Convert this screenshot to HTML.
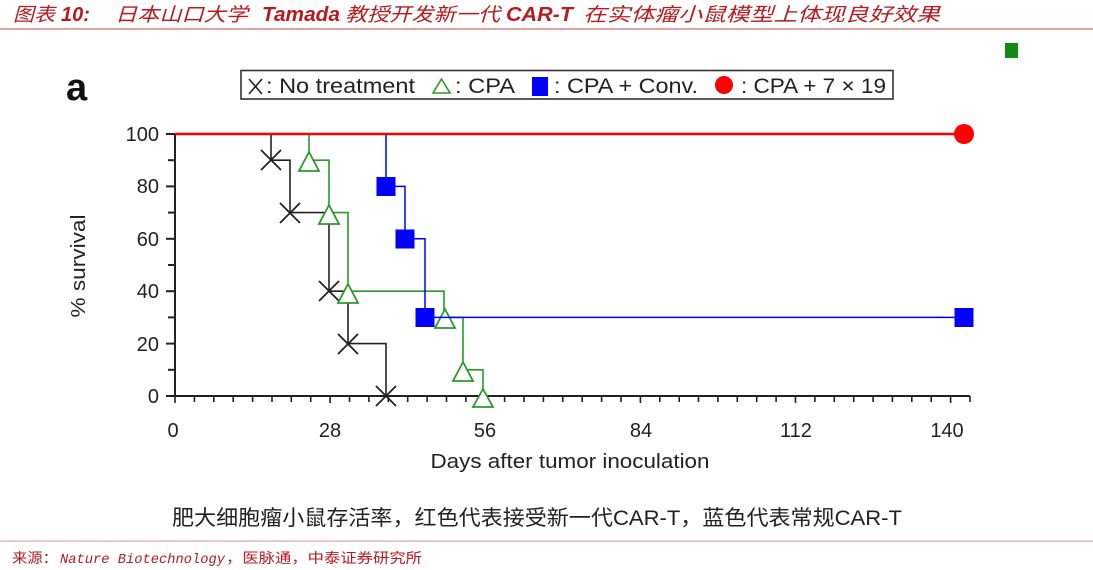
<!DOCTYPE html>
<html><head><meta charset="utf-8"><style>
html,body{margin:0;padding:0;background:#fff;}
svg{display:block;}
</style></head><body>
<svg width="1093" height="570" viewBox="0 0 1093 570" xmlns="http://www.w3.org/2000/svg">
<rect width="1093" height="570" fill="#fff"/>
<!-- Title -->
<g fill="#b81a1e" font-style="italic">
<text x="13" y="21" font-family="'Liberation Sans','Noto Sans CJK SC',sans-serif" font-size="19" textLength="42" lengthAdjust="spacingAndGlyphs">图表</text>
<text x="61" y="21" font-family="'Liberation Sans',sans-serif" font-weight="bold" font-size="20">10:</text>
<text x="115" y="21" font-family="'Liberation Sans','Noto Sans CJK SC',sans-serif" font-size="19" textLength="133" lengthAdjust="spacingAndGlyphs">日本山口大学</text>
<text x="262" y="21" font-family="'Liberation Sans',sans-serif" font-weight="bold" font-size="20" textLength="78" lengthAdjust="spacingAndGlyphs">Tamada</text>
<text x="345" y="21" font-family="'Liberation Sans','Noto Sans CJK SC',sans-serif" font-size="19" textLength="155" lengthAdjust="spacingAndGlyphs">教授开发新一代</text>
<text x="506" y="21" font-family="'Liberation Sans',sans-serif" font-weight="bold" font-size="20" textLength="67" lengthAdjust="spacingAndGlyphs">CAR-T</text>
<text x="583" y="21" font-family="'Liberation Sans','Noto Sans CJK SC',sans-serif" font-size="19" textLength="357" lengthAdjust="spacingAndGlyphs">在实体瘤小鼠模型上体现良好效果</text>
</g>
<line x1="0" y1="29" x2="1093" y2="29" stroke="#c87070" stroke-width="1.2"/>

<!-- green mark -->
<rect x="1005" y="43" width="13" height="15" fill="#138a13"/>

<!-- panel label -->
<text x="66" y="100" font-family="'Liberation Sans',sans-serif" font-weight="bold" font-size="38" fill="#111">a</text>

<!-- legend -->
<rect x="241" y="70.5" width="652" height="28.5" fill="#fff" stroke="#333" stroke-width="1.6"/>
<g font-family="'Liberation Sans',sans-serif" font-size="21" fill="#222">
<path d="M249,79 L262,94 M262,79 L249,94" stroke="#222" stroke-width="1.6" fill="none"/>
<text x="266" y="93" textLength="149" lengthAdjust="spacingAndGlyphs">: No treatment</text>
<path d="M441.5,79 L450,93 L433,93 Z" stroke="#2a9a2a" stroke-width="1.6" fill="none"/>
<text x="455" y="93" textLength="60" lengthAdjust="spacingAndGlyphs">: CPA</text>
<rect x="532" y="77" width="16" height="19" fill="#0000ff"/>
<text x="554" y="93" textLength="144" lengthAdjust="spacingAndGlyphs">: CPA + Conv.</text>
<circle cx="724" cy="85" r="9" fill="#ff0000"/>
<text x="741" y="93" textLength="145" lengthAdjust="spacingAndGlyphs">: CPA + 7 × 19</text>
</g>

<!-- axes -->
<g stroke="#222" stroke-width="2" fill="none">
<line x1="175" y1="133" x2="175" y2="397"/>
<line x1="172" y1="396" x2="970" y2="396"/>
<line x1="166" y1="134" x2="175" y2="134"/>
<line x1="168" y1="160.2" x2="175" y2="160.2"/>
<line x1="166" y1="186.4" x2="175" y2="186.4"/>
<line x1="168" y1="212.6" x2="175" y2="212.6"/>
<line x1="166" y1="238.8" x2="175" y2="238.8"/>
<line x1="168" y1="265" x2="175" y2="265"/>
<line x1="166" y1="291.2" x2="175" y2="291.2"/>
<line x1="168" y1="317.4" x2="175" y2="317.4"/>
<line x1="166" y1="343.6" x2="175" y2="343.6"/>
<line x1="168" y1="369.8" x2="175" y2="369.8"/>
<line x1="166" y1="396" x2="175" y2="396"/>
</g>
<g stroke="#222" stroke-width="1.6">
<line x1="175" y1="396" x2="175" y2="403"/><line x1="194.4" y1="396" x2="194.4" y2="402"/><line x1="213.8" y1="396" x2="213.8" y2="402"/><line x1="233.2" y1="396" x2="233.2" y2="402"/><line x1="252.6" y1="396" x2="252.6" y2="402"/><line x1="272" y1="396" x2="272" y2="402"/><line x1="291.3" y1="396" x2="291.3" y2="402"/><line x1="310.7" y1="396" x2="310.7" y2="402"/><line x1="330.1" y1="396" x2="330.1" y2="403"/><line x1="349.5" y1="396" x2="349.5" y2="402"/><line x1="368.9" y1="396" x2="368.9" y2="402"/><line x1="388.3" y1="396" x2="388.3" y2="402"/><line x1="407.7" y1="396" x2="407.7" y2="402"/><line x1="427.1" y1="396" x2="427.1" y2="402"/><line x1="446.5" y1="396" x2="446.5" y2="402"/><line x1="465.9" y1="396" x2="465.9" y2="402"/><line x1="485.2" y1="396" x2="485.2" y2="403"/><line x1="504.6" y1="396" x2="504.6" y2="402"/><line x1="524" y1="396" x2="524" y2="402"/><line x1="543.4" y1="396" x2="543.4" y2="402"/><line x1="562.8" y1="396" x2="562.8" y2="402"/><line x1="582.2" y1="396" x2="582.2" y2="402"/><line x1="601.6" y1="396" x2="601.6" y2="402"/><line x1="621" y1="396" x2="621" y2="402"/><line x1="640.4" y1="396" x2="640.4" y2="403"/><line x1="659.8" y1="396" x2="659.8" y2="402"/><line x1="679.2" y1="396" x2="679.2" y2="402"/><line x1="698.5" y1="396" x2="698.5" y2="402"/><line x1="717.9" y1="396" x2="717.9" y2="402"/><line x1="737.3" y1="396" x2="737.3" y2="402"/><line x1="756.7" y1="396" x2="756.7" y2="402"/><line x1="776.1" y1="396" x2="776.1" y2="402"/><line x1="795.5" y1="396" x2="795.5" y2="403"/><line x1="814.9" y1="396" x2="814.9" y2="402"/><line x1="834.3" y1="396" x2="834.3" y2="402"/><line x1="853.7" y1="396" x2="853.7" y2="402"/><line x1="873.1" y1="396" x2="873.1" y2="402"/><line x1="892.4" y1="396" x2="892.4" y2="402"/><line x1="911.8" y1="396" x2="911.8" y2="402"/><line x1="931.2" y1="396" x2="931.2" y2="402"/><line x1="950.6" y1="396" x2="950.6" y2="403"/><line x1="970" y1="396" x2="970" y2="402"/>
</g>

<!-- tick labels -->
<g font-family="'Liberation Sans',sans-serif" font-size="20" fill="#222">
<text x="159" y="141" text-anchor="end">100</text>
<text x="159" y="193" text-anchor="end">80</text>
<text x="159" y="246" text-anchor="end">60</text>
<text x="159" y="298" text-anchor="end">40</text>
<text x="159" y="351" text-anchor="end">20</text>
<text x="159" y="403" text-anchor="end">0</text>
<text x="173" y="437" text-anchor="middle">0</text>
<text x="330" y="437" text-anchor="middle">28</text>
<text x="485" y="437" text-anchor="middle">56</text>
<text x="641" y="437" text-anchor="middle">84</text>
<text x="796" y="437" text-anchor="middle">112</text>
<text x="947" y="437" text-anchor="middle">140</text>
</g>
<text x="570" y="468" text-anchor="middle" font-family="'Liberation Sans',sans-serif" font-size="20" fill="#222" textLength="279" lengthAdjust="spacingAndGlyphs">Days after tumor inoculation</text>
<text transform="translate(85,266) rotate(-90)" text-anchor="middle" font-family="'Liberation Sans',sans-serif" font-size="20" fill="#222" textLength="103" lengthAdjust="spacingAndGlyphs">% survival</text>

<!-- series: black -->
<path d="M175,134 H271 V160.2 H290 V212.6 H329 V291.2 H348 V343.6 H386 V396" stroke="#222" stroke-width="1.6" fill="none"/>
<g stroke="#222" stroke-width="1.8">
<path d="M261,150 L281,170 M281,150 L261,170"/>
<path d="M280,203 L300,223 M300,203 L280,223"/>
<path d="M319,281 L339,301 M339,281 L319,301"/>
<path d="M338,334 L358,354 M358,334 L338,354"/>
<path d="M376,386 L396,406 M396,386 L376,406"/>
</g>
<!-- green -->
<path d="M175,134 H309 V160.2 H329 V212.6 H348 V291.2 H444 V317.4 H463 V369.8 H483 V396" stroke="#2a9a2a" stroke-width="1.6" fill="none"/>
<g stroke="#2a9a2a" stroke-width="1.8" fill="#fff">
<path d="M309,152 L319,171 L299,171 Z"/>
<path d="M329,205 L339,224 L319,224 Z"/>
<path d="M348,284 L358,303 L338,303 Z"/>
<path d="M445,309 L455,328 L435,328 Z"/>
<path d="M463,362 L473,381 L453,381 Z"/>
<path d="M483,389 L493,407 L473,407 Z"/>
</g>
<!-- blue -->
<path d="M386,134 V186.4 H405 V238.8 H425 V317.4 H964" stroke="#0000ff" stroke-width="1.5" fill="none"/>
<g fill="#0000ff">
<rect x="376.5" y="177" width="19" height="19"/>
<rect x="395.5" y="229.5" width="19" height="19"/>
<rect x="415.5" y="308" width="19" height="19"/>
<rect x="954.5" y="308" width="19" height="19"/>
</g>
<!-- red -->
<line x1="175" y1="134" x2="964" y2="134" stroke="#ff0000" stroke-width="2.6"/>
<circle cx="964" cy="134" r="10" fill="#ff0000"/>

<!-- caption -->
<text x="172" y="525" font-family="'Liberation Sans','Noto Sans CJK SC',sans-serif" font-size="21" fill="#222" textLength="730" lengthAdjust="spacingAndGlyphs">肥大细胞瘤小鼠存活率，红色代表接受新一代CAR-T，蓝色代表常规CAR-T</text>

<line x1="0" y1="541" x2="1093" y2="541" stroke="#dba3a3" stroke-width="1.2"/>

<!-- source -->
<g fill="#b81a1e" font-size="14">
<text x="12" y="563" font-family="'Liberation Sans','Noto Sans CJK SC',sans-serif" textLength="46" lengthAdjust="spacingAndGlyphs">来源：</text>
<text x="60" y="563" font-family="'Liberation Mono',monospace" font-style="italic" textLength="165" lengthAdjust="spacingAndGlyphs">Nature Biotechnology</text>
<text x="226" y="563" font-family="'Liberation Sans','Noto Sans CJK SC',sans-serif" textLength="196" lengthAdjust="spacingAndGlyphs">，医脉通，中泰证券研究所</text>
</g>
</svg>
</body></html>
